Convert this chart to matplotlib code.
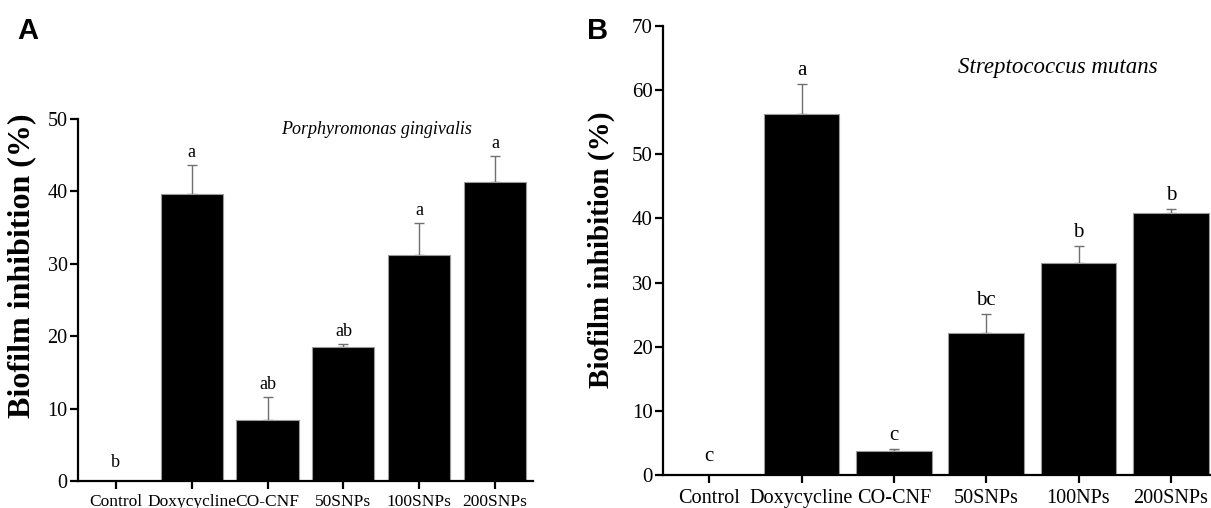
import numpy as np
import matplotlib
matplotlib.use('Agg')
from matplotlib import pyplot as plt

plt.rcParams.update({
    'font.family': ['Liberation Serif', 'DejaVu Serif'],
    'axes.linewidth': 1.6,
    'xtick.major.width': 1.6,
    'ytick.major.width': 1.6,
    'xtick.major.size': 5.5,
    'ytick.major.size': 5.5,
})

groups_a = ['Control', 'Doxycycline', 'CO-CNF', '50SNPs', '100SNPs', '200SNPs']
vals_a = [0.0, 39.7, 8.4, 18.5, 31.2, 41.3]
err_a = [0.0, 3.9, 3.2, 0.4, 4.4, 3.6]
letters_a = ['b', 'a', 'ab', 'ab', 'a', 'a']

groups_b = ['Control', 'Doxycycline', 'CO-CNF', '50SNPs', '100NPs', '200SNPs']
vals_b = [0.0, 56.2, 3.8, 22.2, 33.0, 40.9]
err_b = [0.0, 4.7, 0.3, 2.9, 2.7, 0.6]
letters_b = ['c', 'a', 'c', 'bc', 'b', 'b']

fig = plt.figure(figsize=(12.11, 5.08), dpi=100)
axA = fig.add_axes([0.0644, 0.0531, 0.3757, 0.7126])
axB = fig.add_axes([0.5475, 0.0640, 0.4575, 0.8858])


def draw(ax, groups, vals, errs, letters, ymax, step, xfs, yfs, lfs, lab_fs):
    x = np.arange(len(groups))
    ax.bar(x, vals, width=0.82, color='black', edgecolor='#9a9a9a', linewidth=0.8, zorder=2)
    ax.errorbar(x, vals, yerr=[np.zeros(len(x)), errs], fmt='none', ecolor='#707070',
                elinewidth=1.0, capsize=3.5, capthick=1.0, zorder=1)
    for xi, v, e, t in zip(x, vals, errs, letters):
        ax.annotate(t, (xi, v + e), xytext=(0, 3 if v > 0 else 7), textcoords='offset points',
                    ha='center', va='bottom', fontsize=lfs)
    ax.set_xlim(-0.5, len(groups) - 0.5)
    ax.set_ylim(0, ymax)
    ax.set_yticks(np.arange(0, ymax + 1, step))
    ax.set_xticks(x)
    ax.set_xticklabels(groups, fontsize=xfs)
    ax.tick_params(axis='y', labelsize=yfs, pad=2)
    ax.tick_params(axis='x', pad=4)
    ax.spines['top'].set_visible(False)
    ax.spines['right'].set_visible(False)
    ax.set_ylabel('Biofilm inhibition (%)', fontsize=lab_fs, fontweight='bold')


draw(axA, groups_a, vals_a, err_a, letters_a, 50, 10, 12.5, 14.5, 13, 23)
axA.yaxis.set_label_coords(-0.092, 0.594)
axA.text(0.657, 0.970, 'Porphyromonas gingivalis', transform=axA.transAxes,
         ha='center', va='center', fontsize=13, style='italic')

draw(axB, groups_b, vals_b, err_b, letters_b, 70, 10, 14.6, 15, 15, 21)
axB.yaxis.set_label_coords(-0.087, 0.501)
axB.text(0.713, 0.906, 'Streptococcus mutans', transform=axB.transAxes,
         ha='center', va='center', fontsize=16.5, style='italic')

fig.text(17 / 1211, 1 - 17 / 508, 'A', ha='left', va='top', fontsize=21,
         fontweight='bold', family='Liberation Sans')
fig.text(587 / 1211, 1 - 17 / 508, 'B', ha='left', va='top', fontsize=21,
         fontweight='bold', family='Liberation Sans')

fig.savefig('out.png', dpi=100)
